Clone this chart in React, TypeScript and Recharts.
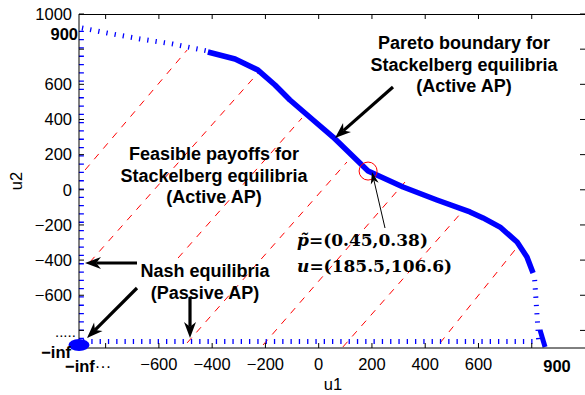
import React from 'react';
import { ComposedChart, Line, Scatter, XAxis, YAxis } from 'recharts';

type Pt = { x: number; y: number };

// axis ticks (u1 / u2)
const xTicks = [-800, -600, -400, -200, 0, 200, 400, 600, 800];
const yTicks = [1000, 800, 600, 400, 200, 0, -200, -400, -600, -800];
const unlabeledTicks = [-800, 800];
const xDomain = [-900, 1000];
const yDomain = [-900, 1000];

// Pareto boundary for Stackelberg equilibria (solid)
const paretoBoundary: Pt[] = [
  { x: -416, y: 784 },
  { x: -314, y: 744 },
  { x: -228, y: 681 },
  { x: -164, y: 596 },
  { x: -108, y: 511 },
  { x: -21, y: 397 },
  { x: 54, y: 300 },
  { x: 185.5, y: 106.6 },
  { x: 317, y: 16 },
  { x: 444, y: -58 },
  { x: 568, y: -126 },
  { x: 617, y: -160 },
  { x: 681, y: -212 },
  { x: 745, y: -297 },
  { x: 782, y: -382 },
  { x: 805, y: -473 },
];

// dotted parts of the boundary
const topDotted: Pt[] = [
  { x: -889, y: 920 },
  { x: -795, y: 892 },
  { x: -671, y: 858 },
  { x: -547, y: 829 },
  { x: -419, y: 790 },
];
const leftDotted: Pt[] = [
  { x: -891, y: 905 },
  { x: -891, y: -893 },
];
const bottomDotted: Pt[] = [
  { x: -885, y: -863 },
  { x: 820, y: -863 },
];
const rightDotted: Pt[] = [
  { x: 811, y: -513 },
  { x: 826, y: -854 },
];
const rightTail: Pt[] = [
  { x: 831, y: -797 },
  { x: 850, y: -894 },
];

// hatch lines of the feasible region
const hatchLines: Pt[][] = [
  [{ x: -877, y: 113 }, { x: -494, y: 795 }],
  [{ x: -859, y: -411 }, { x: -228, y: 664 }],
  [{ x: -528, y: -388 }, { x: -63, y: 408 }],
  [{ x: -494, y: -871 }, { x: 106, y: 158 }],
  [{ x: -209, y: -883 }, { x: 324, y: 44 }],
  [{ x: 91, y: -894 }, { x: 538, y: -126 }],
  [{ x: 456, y: -871 }, { x: 752, y: -314 }],
];

const nashPoint: Pt[] = [{ x: -900, y: -883 }];
const markedPoint: Pt[] = [{ x: 185.5, y: 106.6 }];

const FONT = 'Liberation Sans, Arial, Helvetica, sans-serif';
const BLUE = '#0000ff';

// plot box (matches chart margins / axis sizes below)
const W = 585;
const H = 395;
const LEFT = 79;
const TOP = 14;
const BOTTOM_AXIS = 47;
const plotW = W - LEFT;
const plotH = H - TOP - BOTTOM_AXIS;
const sx = (v: number) => LEFT + ((v - xDomain[0]) / (xDomain[1] - xDomain[0])) * plotW;
const sy = (v: number) => TOP + ((yDomain[1] - v) / (yDomain[1] - yDomain[0])) * plotH;

const fmt = (v: number) => (unlabeledTicks.includes(v) ? '' : String(v).replace('-', '\u2212'));

const Arrow = ({ from, to, w, head, half }: { from: number[]; to: number[]; w: number; head: number; half: number }) => {
  const dx = to[0] - from[0];
  const dy = to[1] - from[1];
  const len = Math.hypot(dx, dy);
  const ux = dx / len;
  const uy = dy / len;
  const bx = to[0] - ux * head;
  const by = to[1] - uy * head;
  const nx = to[0] - ux * head * 0.7;
  const ny = to[1] - uy * head * 0.7;
  const px = -uy;
  const py = ux;
  return (
    <g>
      <line x1={from[0]} y1={from[1]} x2={nx} y2={ny} stroke="#000" strokeWidth={w} />
      <polygon
        points={`${to[0]},${to[1]} ${bx + px * half},${by + py * half} ${nx},${ny} ${bx - px * half},${by - py * half}`}
        fill="#000"
      />
    </g>
  );
};

export default function App() {
  const boldText = { fontFamily: FONT, fontWeight: 'bold' as const, fontSize: 18, fill: '#000', textAnchor: 'middle' as const };
  return (
    <div style={{ position: 'absolute', left: 0, top: 0, width: W, height: H, background: '#fff', overflow: 'hidden' }}>
      <ComposedChart width={W} height={H} margin={{ top: TOP, right: 0, bottom: 0, left: 0 }}>
        <XAxis
          type="number"
          dataKey="x"
          domain={xDomain}
          ticks={xTicks}
          tickFormatter={fmt}
          height={BOTTOM_AXIS}
          tickSize={-5}
          tickMargin={15}
          stroke="#000"
          tick={{ fill: '#000', fontSize: 16.5, fontFamily: FONT }}
        />
        <YAxis
          type="number"
          dataKey="y"
          domain={yDomain}
          ticks={yTicks}
          tickFormatter={fmt}
          width={LEFT}
          tickSize={-5}
          tickMargin={12}
          stroke="#000"
          tick={{ fill: '#000', fontSize: 16.5, fontFamily: FONT }}
        />
        {hatchLines.map((seg, i) => (
          <Line
            key={`hatch-${i}`}
            data={seg}
            dataKey="y"
            type="linear"
            stroke="#ff0000"
            strokeWidth={1}
            strokeDasharray="7 7"
            dot={false}
            activeDot={false}
            isAnimationActive={false}
          />
        ))}
        {[topDotted, leftDotted, bottomDotted, rightDotted].map((seg, i) => (
          <Line
            key={`dotted-${i}`}
            data={seg}
            dataKey="y"
            type="linear"
            stroke={BLUE}
            strokeWidth={5}
            strokeDasharray="1.3 7"
            dot={false}
            activeDot={false}
            isAnimationActive={false}
          />
        ))}
        <Line
          data={paretoBoundary}
          dataKey="y"
          type="linear"
          stroke={BLUE}
          strokeWidth={5.5}
          strokeLinejoin="round"
          dot={false}
          activeDot={false}
          isAnimationActive={false}
        />
        <Line
          data={rightTail}
          dataKey="y"
          type="linear"
          stroke={BLUE}
          strokeWidth={5}
          dot={false}
          activeDot={false}
          isAnimationActive={false}
        />
        <Scatter
          data={nashPoint}
          dataKey="y"
          isAnimationActive={false}
          shape={(p: any) => <ellipse cx={p.cx} cy={p.cy} rx={10.5} ry={6} fill={BLUE} />}
        />
        <Scatter
          data={markedPoint}
          dataKey="y"
          isAnimationActive={false}
          shape={(p: any) => <circle cx={p.cx} cy={p.cy} r={9} fill="none" stroke="#ff0000" strokeWidth={1} />}
        />
      </ComposedChart>

      <svg width={W} height={H} style={{ position: 'absolute', left: 0, top: 0, pointerEvents: 'none' }}>
        {/* top edge of the box, with inward ticks on top and right */}
        <line x1={LEFT} x2={W} y1={TOP + 0.5} y2={TOP + 0.5} stroke="#000" strokeWidth={1} />
        {xTicks.map((t) => (
          <line key={`tt-${t}`} x1={sx(t)} x2={sx(t)} y1={TOP} y2={TOP + 5} stroke="#000" strokeWidth={1} />
        ))}
        {yTicks.map((t) => (
          <line key={`rt-${t}`} x1={W - 5} x2={W} y1={sy(t)} y2={sy(t)} stroke="#000" strokeWidth={1} />
        ))}

        {/* axis labels */}
        <text x={333} y={390} fontFamily={FONT} fontSize={16.5} textAnchor="middle">u1</text>
        <text x={22} y={181} fontFamily={FONT} fontSize={16.5} textAnchor="middle" transform="rotate(-90 22 181)">u2</text>

        {/* special tick labels */}
        <text x={78} y={40} fontFamily={FONT} fontSize={16.5} fontWeight="bold" textAnchor="end">900</text>
        <text x={55} y={337} fontFamily={FONT} fontSize={15}>.....</text>
        <text x={71} y={358} fontFamily={FONT} fontSize={16.5} fontWeight="bold" textAnchor="end">{'\u2212inf'}</text>
        <text x={65} y={372} fontFamily={FONT} fontSize={16.5} fontWeight="bold">{'\u2212inf'}<tspan fontWeight="normal">{'\u00b7\u00b7\u00b7'}</tspan></text>
        <text x={557} y={372} fontFamily={FONT} fontSize={16.5} fontWeight="bold" textAnchor="middle">900</text>

        {/* annotations */}
        <text x={464} y={49} {...boldText}>Pareto boundary for</text>
        <text x={464} y={71} {...boldText}>Stackelberg equilibria</text>
        <text x={464} y={92} {...boldText}>(Active AP)</text>

        <text x={214} y={160} {...boldText}>Feasible payoffs for</text>
        <text x={214} y={182} {...boldText}>Stackelberg equilibria</text>
        <text x={214} y={203} {...boldText}>(Active AP)</text>

        <text x={205} y={277} {...boldText}>Nash equilibria</text>
        <text x={205} y={299} {...boldText}>(Passive AP)</text>

        <text x={297} y={246} fontFamily="DejaVu Serif, serif" fontWeight="bold" fontSize={17}>
          <tspan fontStyle="italic">{'p\u0303'}</tspan>=(0.45,0.38)
        </text>
        <text x={297} y={272} fontFamily="DejaVu Serif, serif" fontWeight="bold" fontSize={17}>
          <tspan fontStyle="italic">u</tspan>=(185.5,106.6)
        </text>

        {/* arrows */}
        <Arrow from={[393, 87]} to={[335, 138]} w={3.2} head={16} half={6} />
        <Arrow from={[385, 228]} to={[372, 172]} w={1} head={12} half={4} />
        <Arrow from={[137, 263]} to={[85, 263]} w={3.2} head={16} half={6} />
        <Arrow from={[137, 288]} to={[87, 338]} w={3.2} head={16} half={6} />
        <Arrow from={[190, 297]} to={[190, 338]} w={3.2} head={16} half={6} />
      </svg>
    </div>
  );
}
